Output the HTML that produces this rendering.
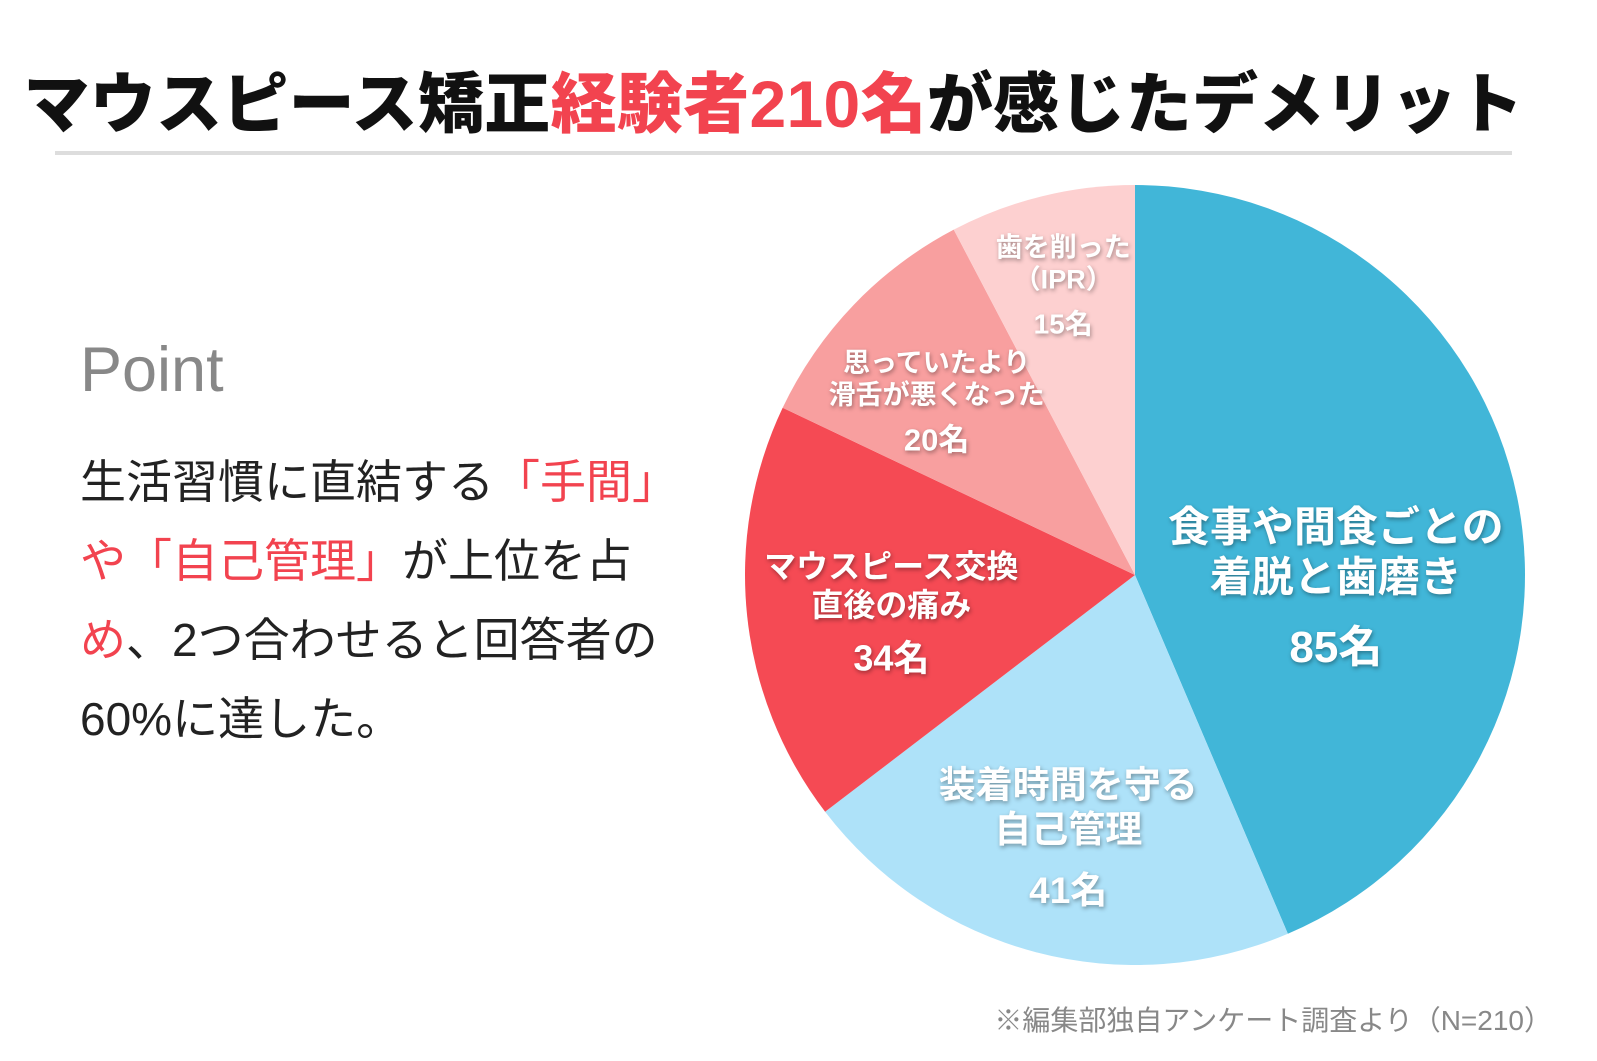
<!DOCTYPE html>
<html><head><meta charset="utf-8"><style>
body{margin:0;width:1597px;height:1061px;background:#fff;font-family:"Liberation Sans","Noto Sans CJK JP",sans-serif;overflow:hidden;position:relative}
.t{position:absolute}
#title{left:0;width:1547px;text-align:center;top:51px;font-size:66px;font-weight:900;color:#111;letter-spacing:0.3px;white-space:nowrap}
.red{color:#f2434f}
#rule{left:55px;top:151px;width:1457px;height:4px;background:#ddd}
#point{left:80px;top:334px;font-size:63px;color:#888;font-weight:500}
#body{left:80px;top:443px;font-size:46px;line-height:79px;color:#222;width:680px;white-space:nowrap}
#foot{right:45px;top:999px;font-size:28px;color:#888}
svg{position:absolute;left:0;top:0}
.lbl{font-weight:bold;fill:#fff;text-anchor:middle;filter:drop-shadow(1px 2px 2px rgba(0,0,0,0.35))}
</style></head><body>
<div class="t" id="title">マウスピース矯正<span class="red">経験者210名</span>が感じたデメリット</div>
<div class="t" id="rule"></div>
<div class="t" id="point">Point</div>
<div class="t" id="body">生活習慣に直結する<span class="red">「手間」<br>や「自己管理」</span>が上位を占<br><span class="red">め</span>、2つ合わせると回答者の<br>60%に達した。</div>
<div class="t" id="foot">※編集部独自アンケート調査より（N=210）</div>
<svg id="chart" width="1597" height="1061"></svg>
<script>
const categories=[["食事や間食ごとの","着脱と歯磨き"],["装着時間を守る","自己管理"],["マウスピース交換","直後の痛み"],["思っていたより","滑舌が悪くなった"],["歯を削った","（IPR）"]];
const values=[85,41,34,20,15];
const valueLabels=["85名","41名","34名","20名","15名"];
const colors=["#41b6d8","#aee2f9","#f54a54","#f89f9f","#fdd0d0"];
const labelR=[205,262,245,275,300];
const labelDy=[55,10,15,20,3];
const fs=[[42,44],[37,37],[32,36],[27,31],[27,28]];
const cx=1135,cy=575,R=390;
const svg=document.getElementById('chart');
const NS="http://www.w3.org/2000/svg";
const total=values.reduce((a,b)=>a+b,0);
function pt(a,r){return [cx+r*Math.sin(a),cy-r*Math.cos(a)];}
let acc=0;
values.forEach((v,i)=>{
  const a0=acc/total*2*Math.PI;acc+=v;const a1=acc/total*2*Math.PI;
  const p0=pt(a0,R),p1=pt(a1,R);
  const p=document.createElementNS(NS,'path');
  p.setAttribute('d',`M${cx},${cy}L${p0[0]},${p0[1]}A${R},${R} 0 ${a1-a0>Math.PI?1:0} 1 ${p1[0]},${p1[1]}Z`);
  p.setAttribute('fill',colors[i]);
  
  
  svg.appendChild(p);
});
acc=0;
values.forEach((v,i)=>{
  const am=(acc+v/2)/total*2*Math.PI;acc+=v;
  let [x,y]=pt(am,labelR[i]);y+=labelDy[i];
  const g=document.createElementNS(NS,'g');
  
  
  const lines=categories[i];const f=fs[i][0],fn=fs[i][1];
  const lh=f*1.2;const totalH=lines.length*lh+fn*1.5;
  let yy=y-totalH/2+f*0.85;
  lines.forEach(l=>{
    const t=document.createElementNS(NS,'text');
    t.setAttribute('x',x);t.setAttribute('y',yy);t.setAttribute('class','lbl');
    t.setAttribute('font-size',f);t.textContent=l;g.appendChild(t);yy+=lh;
  });
  const t=document.createElementNS(NS,'text');
  t.setAttribute('x',x);t.setAttribute('y',yy+fn*0.45);t.setAttribute('class','lbl');
  t.setAttribute('font-size',fn);t.textContent=valueLabels[i];g.appendChild(t);
  svg.appendChild(g);
});
</script>
</body></html>
